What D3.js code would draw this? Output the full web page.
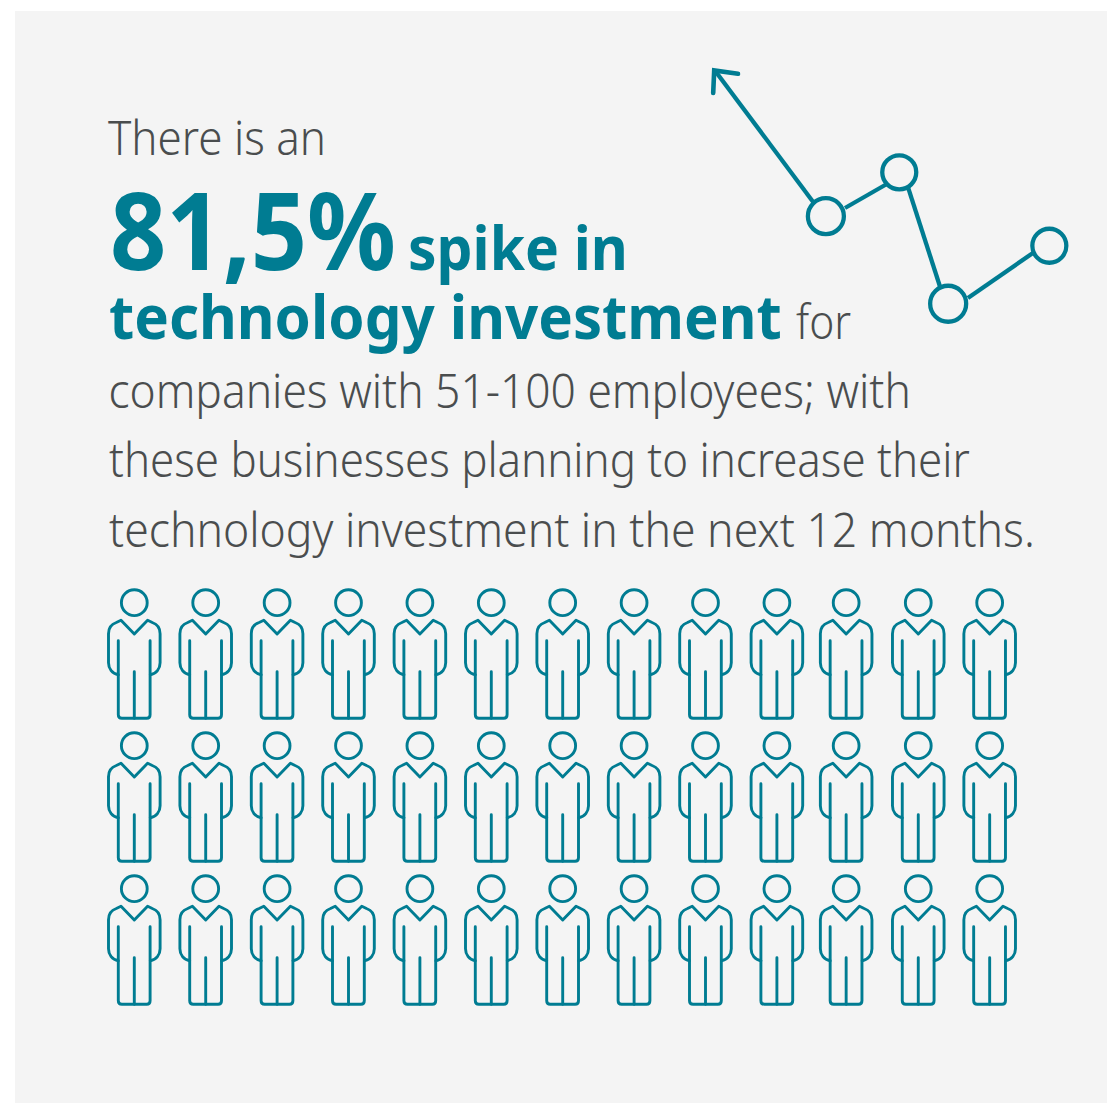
<!DOCTYPE html>
<html>
<head>
<meta charset="utf-8">
<script src="https://cdn.jsdelivr.net/npm/d3@7/dist/d3.min.js"></script>
<style>
html, body { margin: 0; padding: 0; background: #fff; }
svg { display: block; }
</style>
</head>
<body>
<svg id="chart" width="1107" height="1103"></svg>
<script>
// Trend sketch: four separate strokes, each [x0, y0, x1, y1] in trend units
const trendStrokes = [
  [0.6, 99.6, 29.6, 43.8],
  [39.1, 41.2, 51.6, 51.5],
  [57.9, 50.2, 67.5, 7.3],
  [75.8, 2.6, 95.2, 21.9]
];
// Ring markers along the trend
const ringX = [33.4, 55.3, 69.9, 100.1];
const ringY = [37.7, 56.5, 0.1, 25];
const ringSize = [18, 17, 18, 17];

// Pictogram slots: 13 people per row in 3 rows; the last three columns sit a little closer
const columnSlots = [0, 1, 2, 3, 4, 5, 6, 7, 8, 9, 9.97, 10.98, 11.98];
const rowSlots = [0, 1, 2];

// Copy, one entry per run of text
const copyRuns = [
  { text: "There is an", kind: "light" },
  { text: "81,5%", kind: "figure" },
  { text: "spike in", kind: "strong" },
  { text: "technology investment", kind: "strong" },
  { text: "for", kind: "light" },
  { text: "companies with 51-100 employees; with", kind: "light" },
  { text: "these businesses planning to increase their", kind: "light" },
  { text: "technology investment in the next 12 months.", kind: "light" }
];
// Left edge, right edge and baseline of each run
const runBoxes = [
  [108, 326, 155],
  [110, 396, 270],
  [408, 628, 270],
  [109, 782, 339],
  [796, 851, 339],
  [108.5, 911, 408],
  [109, 970, 477],
  [109, 1035, 546.5]
];

const teal = "#007c92";
const ink = "#4a4d4e";
const panel = "#f4f4f4";
const kindStyle = {
  light: { size: 47, weight: 300, fill: ink },
  strong: { size: 61, weight: 700, fill: teal },
  figure: { size: 108, weight: 700, fill: teal }
};

const svg = d3.select("#chart");

svg.append("rect")
  .attr("x", 15).attr("y", 11)
  .attr("width", 1092).attr("height", 1092)
  .attr("fill", panel);

// Text runs are squeezed horizontally to the narrower proportions of the headline face
const copy = svg.append("g").attr("font-family", "'Noto Sans', 'Open Sans', sans-serif");
copyRuns.forEach((run, i) => {
  const [left, right, baseline] = runBoxes[i];
  const st = kindStyle[run.kind];
  const el = copy.append("text")
    .attr("font-size", st.size)
    .attr("font-weight", st.weight)
    .attr("fill", st.fill)
    .text(run.text);
  const natural = el.node().getComputedTextLength();
  el.attr("transform", `translate(${left},${baseline}) scale(${(right - left) / natural},1)`);
});

// Trend sketch
const x = d3.scaleLinear().domain([0, 100]).range([714, 1049]);
const y = d3.scaleLinear().domain([0, 100]).range([304, 71]);

const trendG = svg.append("g")
  .attr("fill", "none")
  .attr("stroke", teal)
  .attr("stroke-width", 4.3);

trendG.selectAll("line")
  .data(trendStrokes)
  .join("line")
  .attr("x1", d => x(d[0]))
  .attr("y1", d => y(d[1]))
  .attr("x2", d => x(d[2]))
  .attr("y2", d => y(d[3]));

const tipX = x(0), tipY = y(100);
trendG.append("path")
  .attr("stroke-width", 4.6)
  .attr("stroke-linecap", "round")
  .attr("stroke-linejoin", "miter")
  .attr("d", d3.line()([[tipX + 24, tipY + 2.8], [tipX + 0.2, tipY - 0.6], [tipX - 0.8, tipY + 22]]));

trendG.selectAll("circle")
  .data(ringX)
  .join("circle")
  .attr("cx", d => x(d))
  .attr("cy", (d, i) => y(ringY[i]))
  .attr("r", (d, i) => ringSize[i]);

// People pictogram
const col = d3.scaleLinear().domain([0, 12]).range([134.3, 991.1]);
const row = d3.scaleLinear().domain([0, 2]).range([602.7, 888.7]);

const drawPerson = g => {
  g.append("circle").attr("r", 12.9);
  // shoulders, collar and arms
  g.append("path").attr("d",
    "M-16 72 C-22 71 -25.8 66 -25.8 60 V31 C-25.8 25 -23 21.5 -18 19.8 L-13.3 17.6 L0 31.2 L13.3 17.6 L18 19.8 C23 21.5 25.8 25 25.8 31 V60 C25.8 66 22 71 16 72");
  // torso sides and legs
  g.append("path").attr("d",
    "M-16 38 V112 Q-16 115.6 -12.4 115.6 H12.4 Q15.8 115.6 15.8 112 V38");
  g.append("path").attr("d", "M0 69 V115.6");
};

const people = svg.append("g")
  .attr("fill", "none")
  .attr("stroke", teal)
  .attr("stroke-width", 2.9)
  .attr("stroke-linecap", "round")
  .attr("stroke-linejoin", "round");

rowSlots.forEach(r => {
  columnSlots.forEach(c => {
    people.append("g")
      .attr("transform", `translate(${col(c)},${row(r)})`)
      .call(drawPerson);
  });
});
</script>
</body>
</html>
